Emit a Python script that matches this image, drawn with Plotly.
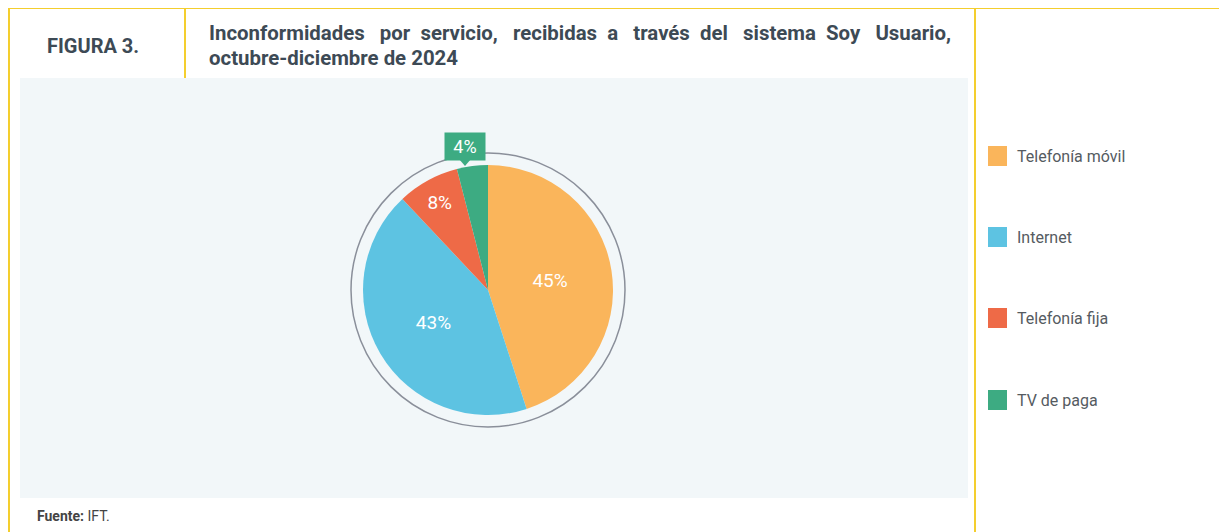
import plotly.graph_objects as go

W, H = 1227, 532
OFF = 8  # page body margin offset

labels = ["Telefonía móvil", "Internet", "Telefonía fija", "TV de paga"]
values = [45, 43, 8, 4]
colors = ["#FAB55B", "#5DC3E2", "#EE6A47", "#3DAB82"]
title_lines = ["Inconformidades por servicio, recibidas a través del sistema Soy Usuario,",
               "octubre-diciembre de 2024"]
fig_label = "FIGURA 3."
source_bold = "Fuente:"
source_text = " IFT."

YEL = "#F4CE2E"
TXT = "#3D4A55"

def px(x):
    return (x - OFF) / W

def py(y):
    return 1 - (y - OFF) / H

cx, cy, r = 488, 290, 125

texts = [f"{v}%" for v in values[:3]] + [""]

fig = go.Figure()
fig.add_trace(go.Pie(
    labels=labels, values=values, sort=False, direction="clockwise", rotation=0,
    marker=dict(colors=colors, line=dict(width=0)),
    text=texts, textinfo="text", textposition="inside",
    insidetextorientation="horizontal",
    textfont=dict(family="Roboto", size=19, color="white"),
    hoverinfo="label+percent",
    domain=dict(x=[px(cx - r), px(cx + r)], y=[py(cy + r), py(cy - r)]),
    showlegend=False,
))

shapes = []
shapes.append(dict(type="rect", xref="paper", yref="paper",
                   x0=px(20), x1=px(968), y0=py(498), y1=py(78),
                   fillcolor="#F2F7F9", line=dict(width=0), layer="below"))
for (x0, y0, x1, y1) in [(8, 8, 1235, 8), (9, 8, 9, 540), (185, 8, 185, 78),
                         (975, 8, 975, 540), (1225, 8, 1225, 540)]:
    shapes.append(dict(type="line", xref="paper", yref="paper",
                       x0=px(x0), x1=px(x1), y0=py(y0), y1=py(y1),
                       line=dict(color=YEL, width=2)))
R = 137
shapes.append(dict(type="circle", xref="paper", yref="paper",
                   x0=px(cx - R), x1=px(cx + R), y0=py(cy + R), y1=py(cy - R),
                   line=dict(color="#8A8F9A", width=1.5), fillcolor="rgba(0,0,0,0)"))
shapes.append(dict(type="path", xref="paper", yref="paper",
                   path=f"M {px(459)} {py(159)} L {px(471)} {py(159)} L {px(465)} {py(166)} Z",
                   fillcolor=colors[3], line=dict(width=0)))
leg_y = [156, 237, 318, 400]
for c, ly in zip(colors, leg_y):
    shapes.append(dict(type="rect", xref="paper", yref="paper",
                       x0=px(988), x1=px(1007), y0=py(ly + 10), y1=py(ly - 10),
                       fillcolor=c, line=dict(width=0)))

annotations = []
annotations.append(dict(x=px(465), y=py(147), xref="paper", yref="paper",
                        text=f"{values[3]}%", showarrow=False,
                        xanchor="center", yanchor="middle",
                        font=dict(family="Roboto", size=18, color="white"),
                        bgcolor=colors[3], borderpad=1, width=38, height=25))
for lab, ly in zip(labels, leg_y):
    annotations.append(dict(x=px(1015), y=py(ly), xref="paper", yref="paper",
                            text=lab, showarrow=False, xanchor="left", yanchor="middle",
                            font=dict(family="Roboto", size=16, color="#555B61")))
annotations.append(dict(x=px(45), y=py(46), xref="paper", yref="paper",
                        text=f"<b>{fig_label}</b>", showarrow=False,
                        xanchor="left", yanchor="middle",
                        font=dict(family="Roboto", size=20, color=TXT)))
words = title_lines[0].split(" ")
line1 = ""
for i, w in enumerate(words):
    if i > 0:
        line1 += ("&nbsp;&nbsp; " if i % 2 == 1 else "&nbsp; ")
    line1 += w
annotations.append(dict(x=px(207), y=py(33), xref="paper", yref="paper",
                        text=f"<b>{line1}</b>", showarrow=False,
                        xanchor="left", yanchor="middle",
                        font=dict(family="Roboto", size=20.4, color=TXT)))
annotations.append(dict(x=px(207), y=py(58), xref="paper", yref="paper",
                        text=f"<b>{title_lines[1]}</b>", showarrow=False,
                        xanchor="left", yanchor="middle",
                        font=dict(family="Roboto", size=20.4, color=TXT)))
annotations.append(dict(x=px(35), y=py(516), xref="paper", yref="paper",
                        text=f"<b>{source_bold}</b>{source_text}", showarrow=False,
                        xanchor="left", yanchor="middle",
                        font=dict(family="Roboto", size=14, color="#444")))

fig.update_layout(
    width=W, height=H, margin=dict(l=0, r=0, t=0, b=0),
    paper_bgcolor="white", plot_bgcolor="white",
    shapes=shapes, annotations=annotations,
)

fig.write_html("out.html")
